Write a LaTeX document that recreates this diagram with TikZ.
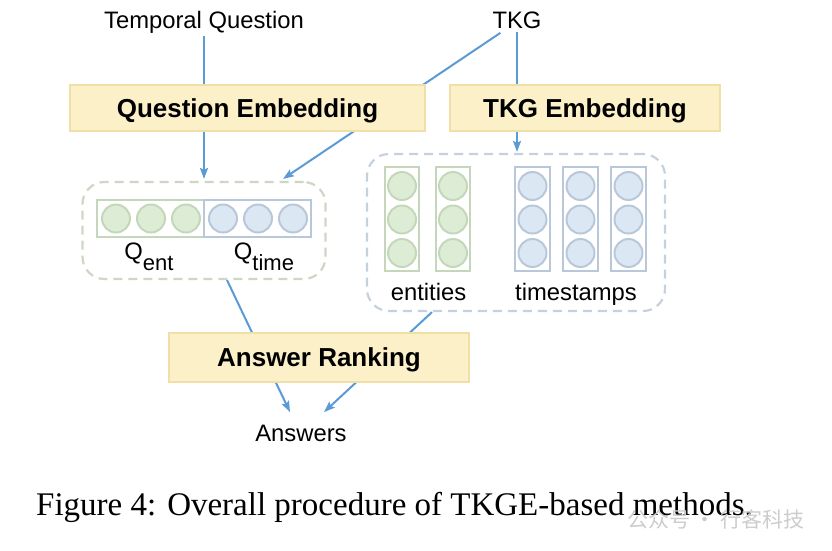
\documentclass[tikz,border=0pt]{standalone}
\usepackage{fontspec}
\setmainfont{Liberation Sans}
\newfontfamily\capfont{Liberation Serif}
\newfontfamily\cjk{Noto Sans CJK SC}
\usetikzlibrary{arrows.meta}
\tikzset{>={Stealth[length=11pt, width=8pt, inset=2pt]}}
\definecolor{embfill}{HTML}{FCF0C9}
\definecolor{embline}{HTML}{F0E0A8}
\definecolor{flowblue}{HTML}{5B9BD5}
\definecolor{entfill}{HTML}{DDEDD5}
\definecolor{entline}{HTML}{C5D7BA}
\definecolor{timefill}{HTML}{DCE7F4}
\definecolor{timeline}{HTML}{B9C7DA}
\definecolor{qdash}{HTML}{CDD7C6}
\definecolor{kdash}{HTML}{C6D1DF}
\begin{document}
\begin{tikzpicture}[x=1pt, y=-1pt,
  emb/.style={draw=embline, fill=embfill, line width=2.2pt, minimum height=46pt, text depth=0pt, font=\fontsize{26}{26}\selectfont\bfseries},
  flow/.style={flowblue, line width=2pt},
  groupbox/.style={dash pattern=on 9pt off 6pt, line width=2.2pt, rounded corners=22pt},
  lbl/.style={font=\fontsize{23.8}{24}\selectfont, anchor=base},
  entc/.style={draw=entline, fill=entfill, line width=2pt},
  timec/.style={draw=timeline, fill=timefill, line width=2pt}]
     \useasboundingbox (0,0) rectangle (832,550);
     \node[lbl] (tq) at (204,28) {Temporal Question};
     \node[lbl] (tkg) at (517,28) {TKG};
     \node[groupbox, draw=qdash, minimum width=243pt, minimum height=97pt] (qbox) at (204,230.5) {};
     \node[groupbox, draw=kdash, minimum width=298pt, minimum height=157pt] (kbox) at (516,232.5) {};
     \node[lbl] (ans) at (301,441) {Answers};
     % lines running behind the boxes
     \draw[flow, ->, shorten <=2pt] ([xshift=-15pt]tkg.south) -- ([xshift=79pt, yshift=2pt]qbox.north);
     \draw[flow, ->] ([xshift=23pt]qbox.south) -- ([xshift=-11pt, yshift=9pt]ans.north);
     \draw[flow, ->] ([xshift=-84pt]kbox.south) -- ([xshift=23pt, yshift=9pt]ans.north);
     \node[emb, minimum width=355pt] (qemb) at (247.5,108) {Question Embedding};
     \node[emb, minimum width=270pt] (kemb) at (585,108) {TKG Embedding};
     \node[emb, minimum width=300pt, minimum height=49pt] (rank) at (319,357.5) {Answer Ranking};
     \draw[flow] (tq) -- (tq |- qemb.north);
     \draw[flow, ->, shorten >=2pt] (tq |- qemb.south) -- (tq |- qbox.north);
     \draw[flow] (tkg) -- (tkg |- kemb.north);
     \draw[flow, ->, shorten >=1pt] (tkg |- kemb.south) -- (tkg |- kbox.north);
     % question vector
     \draw[entline, line width=2pt] (97,200) rectangle (204,237);
     \foreach \x in {116,151,186} \draw[entc] (\x,218.5) circle (14);
     \foreach \x in {223,258,293} \draw[timec] (\x,218.5) circle (14);
     \draw[timeline, line width=2pt] (204,200) rectangle (311,237);
     \node[lbl] (qent) at (149,259) {Q\raisebox{-11pt}{\fontsize{22}{22}\selectfont ent}};
     \node[lbl] (qtime) at (264,259) {Q\raisebox{-11pt}{\fontsize{22}{22}\selectfont time}};
     % TKG columns
     \foreach \x in {385,436} {
          \draw[entline, line width=2pt] (\x,167) rectangle +(34,104);
          \foreach \y in {186,219.5,253} \draw[entc] (\x+17,\y) circle (14);
     }
     \foreach \x in {515,563,611} {
          \draw[timeline, line width=2pt] (\x,167) rectangle +(35,104);
          \foreach \y in {186,219.5,253} \draw[timec] (\x+17.5,\y) circle (14);
     }
     \node[lbl] (ents) at (428.5,300) {entities};
     \node[lbl] (stamps) at (576,300) {timestamps};
     \node[font=\capfont\fontsize{33}{33}\selectfont, anchor=base] (cap) at (394.5,515) {Figure 4: Overall procedure of TKGE-based methods.};
     \node[font=\cjk\fontsize{21}{21}\selectfont, text=gray!40, anchor=base] (mark) at (716,527) {公众号 · 行客科技};
\end{tikzpicture}
\end{document}
